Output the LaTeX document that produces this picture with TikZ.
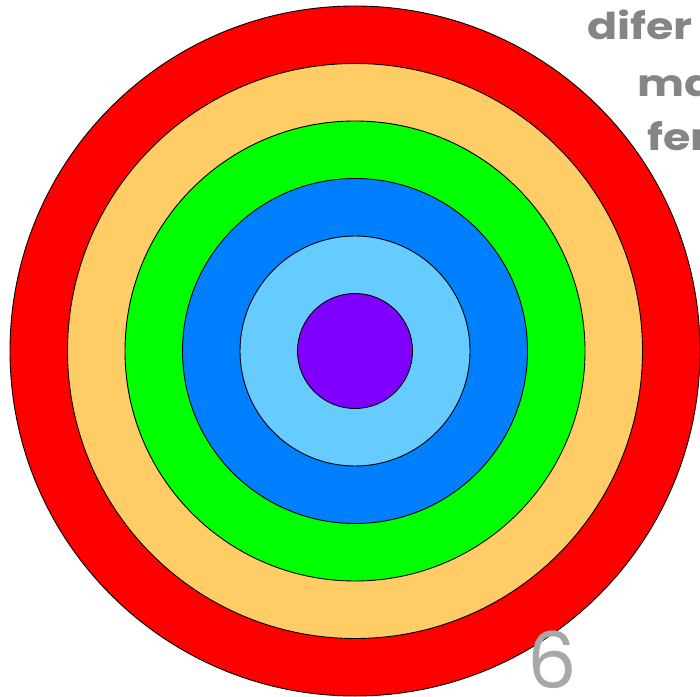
\documentclass[tikz,border=0pt]{standalone}
\usepackage{fontspec}
\newfontfamily\handfont{Poppins}
\definecolor{ringred}{HTML}{FF0000}
\definecolor{ringorange}{HTML}{FFCC66}
\definecolor{ringgreen}{HTML}{00FF00}
\definecolor{ringblue}{HTML}{0080FF}
\definecolor{ringlight}{HTML}{66CCFF}
\definecolor{ringpurple}{HTML}{8000FF}
\definecolor{textgray}{HTML}{858585}
\definecolor{numgray}{HTML}{A8A8A8}
\tikzset{
  ring/.style={circle, draw=black, line width=0.9pt, inner sep=0pt, minimum size=#1},
  word/.style={anchor=base west, inner sep=0pt, text=textgray, xscale=1.2, transform shape, font=\handfont\bfseries\fontsize{37}{40}\selectfont},
}
\begin{document}
\begin{tikzpicture}[x=1pt,y=1pt]
\useasboundingbox (0,0) rectangle (700,696);
\coordinate (c) at (355,345);
\node[ring=690pt, fill=ringred] (r6) at (c) {};
\node[ring=575pt, fill=ringorange] (r5) at (c) {};
\node[ring=460pt, fill=ringgreen] (r4) at (c) {};
\node[ring=345pt, fill=ringblue] (r3) at (c) {};
\node[ring=230pt, fill=ringlight] (r2) at (c) {};
\node[ring=115pt, fill=ringpurple] (r1) at (c) {};
\node[word] (t1) at (587,656) {difer};
\node[word] (t2) at (637,599) {ma};
\node[word] (t3) at (647,545) {fer};
\node[anchor=base west, inner sep=0pt, text=numgray, font=\handfont\fontsize{78}{78}\selectfont] (n6) at (527,8) {6};
\end{tikzpicture}
\end{document}
